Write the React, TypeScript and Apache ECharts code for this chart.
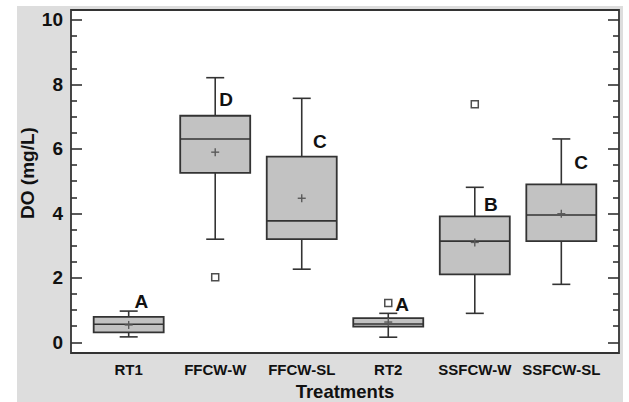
import React, { useEffect, useRef } from "react";
import * as echarts from "echarts";

// Treatments on the horizontal axis
const categories = ["RT1", "FFCW-W", "FFCW-SL", "RT2", "SSFCW-W", "SSFCW-SL"];

// Box statistics of dissolved oxygen (mg/L) per treatment
const whiskerLow = [0.17, 3.2, 2.27, 0.16, 0.9, 1.8];
const quartile1 = [0.31, 5.26, 3.2, 0.49, 2.11, 3.14];
const medians = [0.56, 6.31, 3.77, 0.57, 3.14, 3.95];
const quartile3 = [0.79, 7.03, 5.76, 0.75, 3.91, 4.9];
const whiskerHigh = [0.97, 8.21, 7.57, 0.9, 4.81, 6.31];
const means = [0.54, 5.9, 4.47, 0.63, 3.1, 3.99];

// Outliers: [treatment number (1-based), value]
const outliers = [
  [2, 2.02],
  [4, 1.22],
  [5, 7.39],
];

// Significance groups and the value level where each letter sits
const groupLetters = ["A", "D", "C", "A", "B", "C"];
const letterLevels = [1.28, 7.52, 6.22, 1.16, 4.29, 5.57];
const letterShift = [0.147, 0.127, 0.21, 0.16, 0.185, 0.23];

// Axis ticks
const yMajorTicks = [0, 2, 4, 6, 8, 10];
const yMinorTicks = [0.5, 1, 1.5, 2.5, 3, 3.5, 4.5, 5, 5.5, 6.5, 7, 7.5, 8.5, 9, 9.5];

const FONT = "'Liberation Sans', Arial, Helvetica, sans-serif";
const INK = "#333333";
const TEXT = "#111111";

const Y_MIN = -0.33;
const Y_MAX = 10.31;

function buildOption() {
  const boxData = categories.map((_, i) => [
    i + 1,
    whiskerLow[i],
    quartile1[i],
    medians[i],
    quartile3[i],
    whiskerHigh[i],
    means[i],
  ]);

  const yAxisBase = (position: "left" | "right", ticks: number[], length: number, labels: boolean) => ({
    type: "value" as const,
    position,
    min: Y_MIN,
    max: Y_MAX,
    axisLine: { show: false },
    splitLine: { show: false },
    axisTick: {
      show: true,
      inside: true,
      length,
      customValues: ticks,
      lineStyle: { color: INK, width: 1.6 },
    },
    axisLabel: labels
      ? {
          show: true,
          customValues: yMajorTicks,
          margin: 8,
          color: TEXT,
          fontFamily: FONT,
          fontWeight: "bold" as const,
          fontSize: 19,
        }
      : { show: false },
  });

  return {
    animation: false,
    backgroundColor: "transparent",
    grid: {
      left: 71,
      right: 10,
      top: 10,
      bottom: 49,
      outerBoundsMode: "none",
      containLabel: false,
      show: true,
      backgroundColor: "#ffffff",
      borderColor: INK,
      borderWidth: 1.8,
    },
    xAxis: {
      type: "value",
      min: 1 / 3,
      max: 20 / 3,
      axisLine: { show: false },
      axisTick: { show: false },
      splitLine: { show: false },
      axisLabel: {
        customValues: [1, 2, 3, 4, 5, 6],
        formatter: (v: number) => categories[Math.round(v) - 1] ?? "",
        margin: 9,
        color: TEXT,
        fontFamily: FONT,
        fontWeight: "bold",
        fontSize: 15,
      },
      name: "Treatments",
      nameLocation: "middle",
      nameGap: 29,
      nameTextStyle: {
        color: TEXT,
        fontFamily: FONT,
        fontWeight: "bold",
        fontSize: 18.5,
      },
    },
    yAxis: [
      yAxisBase("left", yMajorTicks, 11, true),
      yAxisBase("left", yMinorTicks, 6, false),
      yAxisBase("right", yMajorTicks, 11, false),
      yAxisBase("right", yMinorTicks, 6, false),
    ],
    graphic: [
      {
        type: "text",
        x: 27,
        y: 173,
        rotation: Math.PI / 2,
        style: {
          text: "DO (mg/L)",
          align: "center",
          verticalAlign: "middle",
          fill: TEXT,
          font: `bold 19px ${FONT}`,
        },
      },
    ],
    series: [
      {
        type: "custom",
        xAxisIndex: 0,
        yAxisIndex: 0,
        data: boxData,
        encode: { x: 0, y: [1, 2, 3, 4, 5, 6] },
        renderItem: (_params: any, api: any) => {
          const x = api.value(0);
          const at = (k: number) => api.coord([x, api.value(k)]);
          const lo = at(1);
          const b1 = at(2);
          const md = at(3);
          const b3 = at(4);
          const hi = at(5);
          const mn = at(6);
          const cx = lo[0];
          const half = 35;
          const cap = 9;
          const plus = 4;
          const stroke = { stroke: INK, lineWidth: 1.6 };
          return {
            type: "group",
            children: [
              { type: "line", shape: { x1: cx, y1: hi[1], x2: cx, y2: b3[1] }, style: stroke },
              { type: "line", shape: { x1: cx, y1: b1[1], x2: cx, y2: lo[1] }, style: stroke },
              { type: "line", shape: { x1: cx - cap, y1: hi[1], x2: cx + cap, y2: hi[1] }, style: stroke },
              { type: "line", shape: { x1: cx - cap, y1: lo[1], x2: cx + cap, y2: lo[1] }, style: stroke },
              {
                type: "rect",
                shape: { x: cx - half, y: b3[1], width: half * 2, height: b1[1] - b3[1] },
                style: { fill: "#c2c2c2", stroke: INK, lineWidth: 1.8 },
              },
              { type: "line", shape: { x1: cx - half, y1: md[1], x2: cx + half, y2: md[1] }, style: stroke },
              {
                type: "line",
                shape: { x1: cx - plus, y1: mn[1], x2: cx + plus, y2: mn[1] },
                style: { stroke: "#5a5a5a", lineWidth: 1.4 },
              },
              {
                type: "line",
                shape: { x1: cx, y1: mn[1] - plus, x2: cx, y2: mn[1] + plus },
                style: { stroke: "#5a5a5a", lineWidth: 1.4 },
              },
            ],
          };
        },
        z: 2,
      },
      {
        type: "scatter",
        xAxisIndex: 0,
        yAxisIndex: 0,
        data: outliers,
        symbol: "rect",
        symbolSize: 7,
        itemStyle: { color: "#ffffff", borderColor: "#222222", borderWidth: 1.5 },
        z: 3,
      },
      {
        // Group letters drawn as plain text beside each box
        type: "custom",
        xAxisIndex: 0,
        yAxisIndex: 0,
        data: categories.map((_, i) => [i + 1 + letterShift[i], letterLevels[i]]),
        encode: { x: 0, y: 1 },
        renderItem: (params: any, api: any) => {
          const p = api.coord([api.value(0), api.value(1)]);
          return {
            type: "text",
            x: p[0],
            y: p[1],
            style: {
              text: groupLetters[params.dataIndex],
              align: "center",
              verticalAlign: "middle",
              fill: TEXT,
              font: `bold 19px ${FONT}`,
            },
          };
        },
        z: 4,
      },
    ],
  };
}

export default function App() {
  const ref = useRef<HTMLDivElement>(null);

  useEffect(() => {
    if (!ref.current) return;
    const chart = echarts.init(ref.current, null, { renderer: "svg" });
    chart.setOption(buildOption() as any);
    return () => chart.dispose();
  }, []);

  return (
    <div style={{ position: "fixed", left: 0, top: 0, width: 629, height: 402, background: "#ffffff" }}>
      <div style={{ position: "absolute", left: 17, top: 6, width: 606, height: 396, background: "#dddddd" }} />
      <div ref={ref} style={{ position: "absolute", left: 0, top: 0, width: 629, height: 402 }} />
    </div>
  );
}
